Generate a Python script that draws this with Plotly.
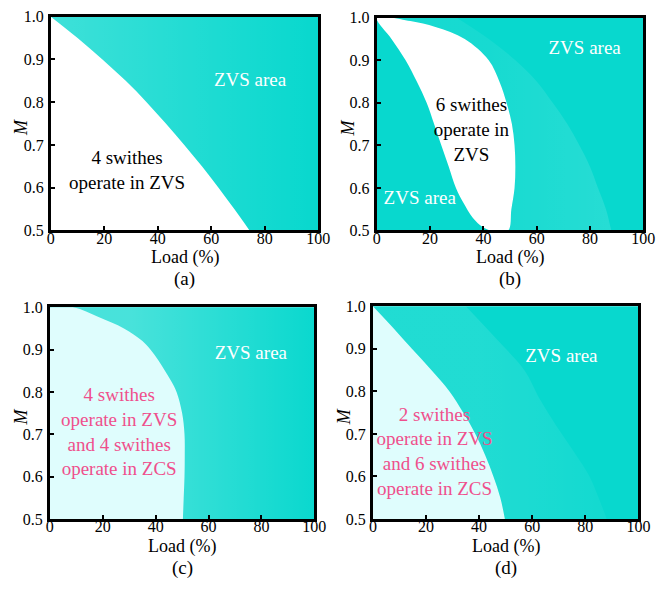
import plotly.graph_objects as go
from plotly.subplots import make_subplots

W, H = 666, 596

# ---- boundary curves (Load %, M) ----
# (a) boundary of the 4-switch ZVS region
a_load = [0, 10, 19.3, 28, 35.8, 43, 49.9, 56.5, 62.7, 68.6, 74.3]
a_m = [1.0, 0.95, 0.9, 0.85, 0.8, 0.75, 0.7, 0.65, 0.6, 0.55, 0.5]

# (b) closed outline of the 6-switch ZVS lens: left edge down, right edge up
b_left_load = [0, 5.5, 10.8, 15, 18.7, 21.5, 24.2, 27, 29.7, 32.5, 36, 40, 44.5]
b_left_m = [1.0, 0.95, 0.9, 0.85, 0.8, 0.75, 0.7, 0.65, 0.6, 0.565, 0.53, 0.507, 0.497]
b_right_load = [49.3, 50.5, 51.7, 52, 51.7, 50.7, 48.7, 46, 42, 33, 22, 12.6, 0]
b_right_m = [0.5, 0.55, 0.6, 0.65, 0.7, 0.75, 0.8, 0.85, 0.9, 0.95, 0.978, 0.992, 1.0]
# (b) outer edge of the lighter transition band
b_faint_load = [30, 42, 52, 60, 66, 71.5, 76, 80, 83, 86, 88, 90]
b_faint_m = [1.0, 0.95, 0.9, 0.85, 0.8, 0.75, 0.7, 0.65, 0.6, 0.55, 0.5, 0.45]

# (c) boundary of the ZVS + ZCS region
c_load = [0, 9, 18.4, 28, 35, 38, 41, 43.5, 45.9, 47.9, 50, 50.9, 51, 50.9, 50.6, 50.3, 50]
c_m = [1.0, 1.0, 0.977, 0.95, 0.92, 0.9, 0.875, 0.85, 0.825, 0.8, 0.75, 0.7,
       0.65, 0.6, 0.55, 0.5, 0.45]

# (d) boundary of the ZVS + ZCS region and the outer transition curve
d_load = [0, 7.5, 14.7, 22, 28.8, 34, 38.6, 42.3, 45.4, 48, 49.7]
d_m = [1.0, 0.95, 0.9, 0.85, 0.8, 0.75, 0.7, 0.65, 0.6, 0.55, 0.5]
d_faint_load = [35, 47, 57, 63, 69, 75.5, 81.6, 85, 88, 90]
d_faint_m = [1.0, 0.92, 0.85, 0.78, 0.72, 0.66, 0.6, 0.55, 0.5, 0.45]

x_ticks = [0, 20, 40, 60, 80, 100]
y_ticks = [0.5, 0.6, 0.7, 0.8, 0.9, 1.0]
y_tick_text = ["0.5", "0.6", "0.7", "0.8", "0.9", "1.0"]
panel_labels = ["(a)", "(b)", "(c)", "(d)"]

TEAL = "#08d8ce"
LIGHT = "#dffdfd"
PINK = "#ef4f8c"
FONT = "Liberation Serif, Times New Roman, serif"

# plot areas in pixels: (left, right, top, bottom)
boxes = [(48, 322, 9, 229), (382, 655, 10, 229),
         (47, 318, 308, 526), (378, 650, 307, 526)]


def px_x(v):
    return v / W


def px_y(v):
    return 1 - v / H


fig = make_subplots(rows=2, cols=2)
layout_axes = {}
for i, (l, r, t, b) in enumerate(boxes):
    n = "" if i == 0 else str(i + 1)
    layout_axes["xaxis" + n] = dict(domain=[px_x(l), px_x(r)])
    layout_axes["yaxis" + n] = dict(domain=[px_y(b), px_y(t)])
fig.update_layout(**layout_axes)


def region(load, m, row, col, color=None, fillmode="toself", gradient=None, smooth=True):
    kw = dict(x=load, y=m, mode="lines", fill=fillmode, hoverinfo="skip",
              showlegend=False,
              line=dict(width=0, shape="spline" if smooth else "linear", smoothing=1.0))
    if gradient is not None:
        kw["fillgradient"] = gradient
    else:
        kw["fillcolor"] = color
    fig.add_trace(go.Scatter(**kw), row=row, col=col)


def text(x, y, s, row, col, color, size=19):
    fig.add_trace(go.Scatter(x=[x], y=[y], mode="text", text=[s],
                             textfont=dict(family=FONT, size=size, color=color),
                             hoverinfo="skip", showlegend=False), row=row, col=col)


def hgrad(c0, c1, start=None, stop=None):
    g = dict(type="horizontal", colorscale=[[0, c0], [1, c1]])
    if start is not None:
        g["start"] = start
        g["stop"] = stop
    return g


FULL_X = [0, 100, 100, 0]
FULL_Y = [0.5, 0.5, 1.0, 1.0]

# ---- (a) ----
region(FULL_X, FULL_Y, 1, 1, smooth=False,
       gradient=hgrad("rgba(255,255,255,0.22)", "rgba(255,255,255,0.0)"))
region(a_load, a_m, 1, 1, "white", fillmode="tozeroy")
text(74.5, 0.85, "ZVS area", 1, 1, "white")
text(28.5, 0.637, "4 swithes<br>operate in ZVS", 1, 1, "black")

# ---- (b) ----
region(b_faint_load + b_right_load, b_faint_m + b_right_m, 1, 2,
       gradient=hgrad("rgba(255,255,255,0.06)", "rgba(255,255,255,0.13)", 40, 90))
region(b_left_load + b_right_load, b_left_m + b_right_m, 1, 2, "white")
text(78, 0.925, "ZVS area", 1, 2, "white")
text(16.1, 0.573, "ZVS area", 1, 2, "white")
text(35.5, 0.733, "6 swithes<br>operate in<br>ZVS", 1, 2, "black")

# ---- (c) ----
region(FULL_X, FULL_Y, 2, 1, smooth=False,
       gradient=hgrad("rgba(255,255,255,0.26)", "rgba(255,255,255,0.0)", 30, 100))
region(c_load, c_m, 2, 1, LIGHT, fillmode="tozerox")
text(76, 0.89, "ZVS area", 2, 1, "white")
text(26.2, 0.702, "4 swithes<br>operate in ZVS<br>and 4 swithes<br>operate in ZCS", 2, 1, PINK)

# ---- (d) ----
region(d_faint_load + d_load[::-1], d_faint_m + d_m[::-1], 2, 2,
       gradient=hgrad("rgba(255,255,255,0.10)", "rgba(255,255,255,0.04)", 40, 90))
region(d_load, d_m, 2, 2, LIGHT, fillmode="tozeroy")
text(71, 0.879, "ZVS area", 2, 2, "white")
text(23.2, 0.655, "2 swithes<br>operate in ZVS<br>and 6 swithes<br>operate in ZCS", 2, 2, PINK)

axis_common = dict(showgrid=False, zeroline=False, showline=True, linecolor="black",
                   linewidth=3, mirror=True, ticks="inside", ticklen=4, tickwidth=2,
                   tickcolor="black", tickfont=dict(family=FONT, size=16, color="black"))
fig.update_xaxes(range=[0, 100], tickvals=x_ticks, ticklabelstandoff=-9, **axis_common)
fig.update_yaxes(range=[0.5, 1.0], tickvals=y_ticks, ticktext=y_tick_text,
                 ticklabelstandoff=1, **axis_common)

ann = []
for i, (l, r, t, b) in enumerate(boxes):
    cx = (l + r) / 2
    ann.append(dict(x=px_x(cx), y=px_y(b + 28), xref="paper", yref="paper",
                    xanchor="center", yanchor="middle",
                    text="Load (%)", showarrow=False,
                    font=dict(family=FONT, size=18, color="black")))
    ann.append(dict(x=px_x(cx), y=px_y(b + 50), xref="paper", yref="paper",
                    xanchor="center", yanchor="middle",
                    text=panel_labels[i], showarrow=False,
                    font=dict(family=FONT, size=19, color="black")))
    ann.append(dict(x=px_x(l - 30), y=px_y((t + b) / 2 + 4), xref="paper", yref="paper",
                    xanchor="center", yanchor="middle",
                    text="<i>M</i>", showarrow=False, textangle=-90,
                    font=dict(family=FONT, size=18, color="black")))

fig.update_layout(width=W, height=H, margin=dict(l=0, r=0, t=0, b=0),
                  paper_bgcolor="white", plot_bgcolor=TEAL, annotations=ann,
                  showlegend=False)

fig.write_html("out.html")
